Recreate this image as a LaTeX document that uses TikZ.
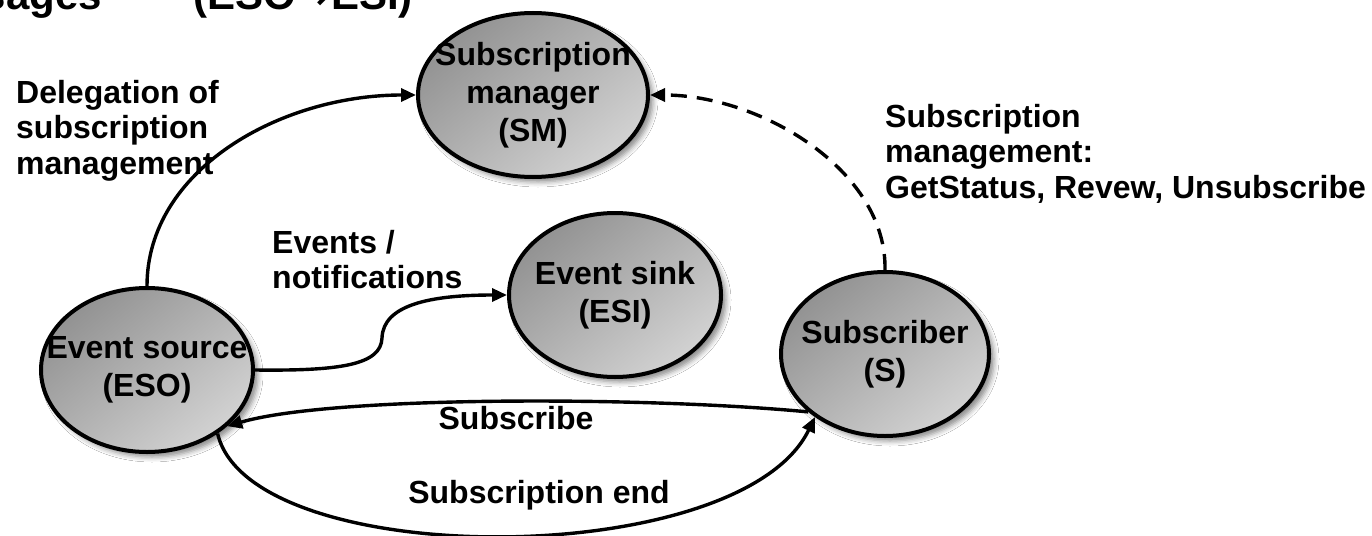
\documentclass[tikz,border=0pt]{standalone}
\usepackage{fontspec}
\setmainfont{Liberation Sans}
\newfontfamily\arrowfont{DejaVu Sans}
\usetikzlibrary{arrows.meta,shapes.geometric,shadows.blur}

\definecolor{nodedark}{RGB}{146,146,146}
\definecolor{nodelight}{RGB}{210,210,210}

\begin{document}
\begin{tikzpicture}[x=1pt,y=-1pt,
  party/.style={ellipse, draw=black, line width=4pt, inner sep=-30pt,
    align=center, minimum height=164pt,
    top color=nodedark, bottom color=nodelight, shading angle=40,
    blur shadow={shadow xshift=5pt, shadow yshift=-5pt,
                 shadow blur radius=5pt, shadow opacity=45},
    font=\bfseries\fontsize{32}{38}\selectfont},
  lbl/.style={inner sep=0pt, align=left, anchor=north west,
    font=\bfseries\fontsize{32}{35.5}\selectfont},
  edgelbl/.style={inner sep=0pt, anchor=base,
    font=\bfseries\fontsize{32}{36}\selectfont},
  headline/.style={inner sep=0pt, font=\bfseries\fontsize{42}{48}\selectfont},
  link/.style={line width=3.4pt, -{Triangle[length=15pt,width=13pt]}}
]
\useasboundingbox (0,0) rectangle (1372,535);
\fill[white] (0,0) rectangle (1372,535);
\clip (0,0) rectangle (1372,535);

% heading, mostly above the top edge
\node[headline, anchor=base east] (headA) at (102,10) {sages};
\node[headline, anchor=base west] (headB) at (193,10) {(ESO{\arrowfont →}ESI)};

% parties
\node[party, minimum width=230pt] (sm)  at (533,95)  {Subscription\\manager\\(SM)};
\node[party, minimum width=212pt] (esi) at (615,295) {Event sink\\(ESI)};
\node[party, minimum width=212pt] (eso) at (147,370) {Event source\\(ESO)};
\node[party, minimum width=208pt] (s)   at (885,354) {Subscriber\\(S)};

% message labels
\node[lbl] (deleg) at (16,80) {Delegation of\\subscription\\management};
\node[lbl] (evlbl) at (272,230) {Events /\\notifications};
\node[lbl] (mgmt)  at (885,104) {Subscription\\management:\\GetStatus, Revew, Unsubscribe};
\node[edgelbl] (sublbl) at (516,429) {Subscribe};
\node[edgelbl] (endlbl) at (539,503) {Subscription end};

% messages
\coordinate (kink) at (382,338);
\draw[link] (eso.north) .. controls (147,170) and (280,95) .. (sm.west);
\draw[link] (eso.east) .. controls (340,371) and (381,365) .. (kink)
                       .. controls (383,305) and (430,295) .. (esi.west);
\draw[link, dash pattern=on 16pt off 10pt] (s.north) .. controls (887,170) and (760,95) .. (sm.east);
\draw[link] (s.217) .. controls (640,396) and (330,396) .. (eso.-35);
\draw[link] (eso.-42) .. controls (250,572) and (740,572) .. (s.222);
\end{tikzpicture}
\end{document}
